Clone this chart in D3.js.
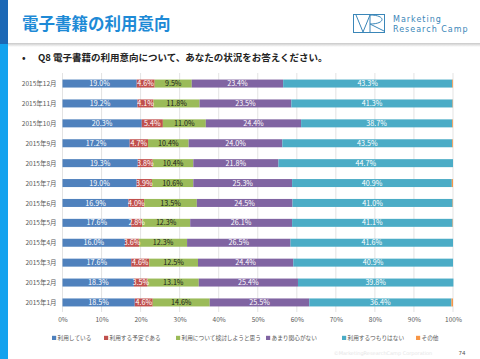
<!DOCTYPE html>
<html><head><meta charset="utf-8">
<script src="https://cdn.jsdelivr.net/npm/d3@7/dist/d3.min.js"></script>
<style>body{margin:0;background:#fff;}svg{display:block;}</style>
</head><body>
<svg id="c" width="480" height="359"></svg>
<script>
const months = ["2015年12月","2015年11月","2015年10月","2015年9月","2015年8月","2015年7月","2015年6月","2015年5月","2015年4月","2015年3月","2015年2月","2015年1月"];
const seriesNames = ["利用している","利用する予定である","利用について検討しようと思う","あまり関心がない","利用するつもりはない","その他"];
const using      = [19.0,19.2,20.3,17.2,19.3,19.0,16.9,17.6,16.0,17.6,18.3,18.5];
const planning   = [4.6,4.1,5.4,4.7,3.8,3.9,4.0,2.8,3.6,4.6,3.5,4.6];
const considering= [9.5,11.8,11.0,10.4,10.4,10.6,13.5,12.3,12.3,12.5,13.1,14.6];
const notInterested=[23.4,23.5,24.4,24.0,21.8,25.3,24.5,26.1,26.5,24.4,25.4,25.5];
const noIntention= [43.3,41.3,38.7,43.5,44.7,40.9,41.0,41.1,41.6,40.9,39.8,36.4];
const other      = [0.2,0.1,0.2,0.2,0.0,0.3,0.1,0.1,0.0,0.0,0.0,0.4];
const xTicks = [0,10,20,30,40,50,60,70,80,90,100];
const colors = ["#4f81bd","#c0504d","#9bbb59","#8064a2","#4bacc6","#f79646"];
const labelColors = ["#fff","#fff","#1a1a1a","#fff","#fff","#fff"];

const seriesVals = [using,planning,considering,notInterested,noIntention,other];
const rows = months.map((m,i)=>{const o={month:m}; seriesNames.forEach((s,k)=>o[s]=seriesVals[k][i]); return o;});

const svg = d3.select("#c");
const JP = "'Noto Sans CJK JP','Noto Sans',sans-serif";

// left strip
svg.append("rect").attr("x",0).attr("y",0).attr("width",8).attr("height",44).attr("fill","#1c68b5");
svg.append("rect").attr("x",0).attr("y",44).attr("width",8).attr("height",315).attr("fill","#13a2ee");
// header separator
const g0 = svg.append("defs").append("linearGradient").attr("id","sep").attr("x1",0).attr("x2",0).attr("y1",0).attr("y2",1);
g0.append("stop").attr("offset","0").attr("stop-color","#c8c8c8");
g0.append("stop").attr("offset","1").attr("stop-color","#ffffff");
svg.append("rect").attr("x",8).attr("y",43).attr("width",472).attr("height",4).attr("fill","url(#sep)");

svg.append("text").attr("x",22).attr("y",30).attr("font-family",JP).attr("font-weight","bold")
  .attr("font-size",16.5).attr("fill","#1e8ad6").text("電子書籍の利用意向");

// logo
const lg = svg.append("g").attr("stroke","#3a86b8").attr("fill","none").attr("stroke-width",1);
lg.append("rect").attr("x",353.5).attr("y",14.5).attr("width",31).attr("height",18);
lg.append("path").attr("d","M356,15 L363,32 L370,15 M370,15 L370,32 M370,15 C386,15 386,24 370,24 L384,31");
svg.append("text").attr("x",393).attr("y",22).attr("font-family","'DejaVu Sans',sans-serif").attr("font-size",8)
  .attr("letter-spacing",1).attr("fill","#3a86b8").text("Marketing");
svg.append("text").attr("x",393).attr("y",32).attr("font-family","'DejaVu Sans',sans-serif").attr("font-size",8)
  .attr("letter-spacing",1).attr("fill","#3a86b8").text("Research Camp");

// subtitle
svg.append("text").attr("x",22).attr("y",61).attr("font-family",JP).attr("font-size",9.5).attr("font-weight","bold").attr("fill","#222").text("•");
svg.append("text").attr("x",38).attr("y",61).attr("font-family",JP).attr("font-size",9.5).attr("font-weight","bold")
  .attr("fill","#222").text("Q8 電子書籍の利用意向について、あなたの状況をお答えください。");

// scales
const x = d3.scaleLinear().domain([0,100]).range([62.5,453]);
const y = d3.scalePoint().domain(months).range([73.6,312.4]).padding(0.5);
const barH = 8;

// gridlines
svg.append("g").selectAll("line").data(xTicks).join("line")
  .attr("x1",d=>x(d)).attr("x2",d=>x(d)).attr("y1",73).attr("y2",312)
  .attr("stroke","#dcdcdc").attr("stroke-width",0.8);

// x axis
const xAxis = d3.axisBottom(x).tickValues(xTicks).tickFormat(d=>d+"%").tickSize(0).tickPadding(0);
const xa = svg.append("g").attr("transform","translate(0,317)").call(xAxis);
xa.select(".domain").remove();
xa.selectAll("text").attr("font-family",JP).attr("font-size",6.5).attr("fill","#595959").attr("dy","0.71em");

// y axis
const yAxis = d3.axisLeft(y).tickSize(0).tickPadding(6);
const ya = svg.append("g").attr("transform","translate(62.5,0)").call(yAxis);
ya.select(".domain").remove();
ya.selectAll("text").attr("font-family",JP).attr("font-size",6.5).attr("fill","#595959");

// stacked bars
const stack = d3.stack().keys(seriesNames)(rows);
const layers = svg.append("g").selectAll("g").data(stack).join("g").attr("fill",(d,i)=>colors[i]);
layers.selectAll("rect").data(d=>d).join("rect")
  .attr("x",d=>x(d[0])).attr("width",d=>x(d[1])-x(d[0]))
  .attr("y",d=>y(d.data.month)-barH/2).attr("height",barH);

// labels
const lab = svg.append("g");
stack.forEach((layer,i)=>{
  if(i===5) return;
  lab.append("g").selectAll("text").data(layer).join("text")
    .attr("x",d=>(x(d[0])+x(d[1]))/2).attr("y",d=>y(d.data.month))
    .attr("dy","0.36em").attr("text-anchor","middle")
    .attr("font-family",JP).attr("font-size",7.2).attr("fill",labelColors[i])
    .text(d=>(d[1]-d[0]).toFixed(1)+"%");
});

// legend
const legX = [52,104,176,266,342,416];
const leg = svg.append("g").selectAll("g").data(seriesNames).join("g")
  .attr("transform",(d,i)=>`translate(${legX[i]},338)`);
leg.append("rect").attr("x",0).attr("y",-2.2).attr("width",4.2).attr("height",4.2).attr("fill",(d,i)=>colors[i]);
leg.append("text").attr("x",5.5).attr("y",0).attr("dy","0.36em").attr("font-family",JP).attr("font-size",5.7)
  .attr("fill","#595959").text(d=>d);

// footer
svg.append("text").attr("x",383).attr("y",355).attr("text-anchor","middle").attr("font-family","'DejaVu Sans',sans-serif")
  .attr("font-size",5).attr("fill","#e6e6e6").text("©MarketingResearchCamp Corporation");
svg.append("text").attr("x",462).attr("y",355).attr("text-anchor","middle").attr("font-family","'DejaVu Sans',sans-serif")
  .attr("font-size",5.5).attr("fill","#555").text("74");
</script>
</body></html>
